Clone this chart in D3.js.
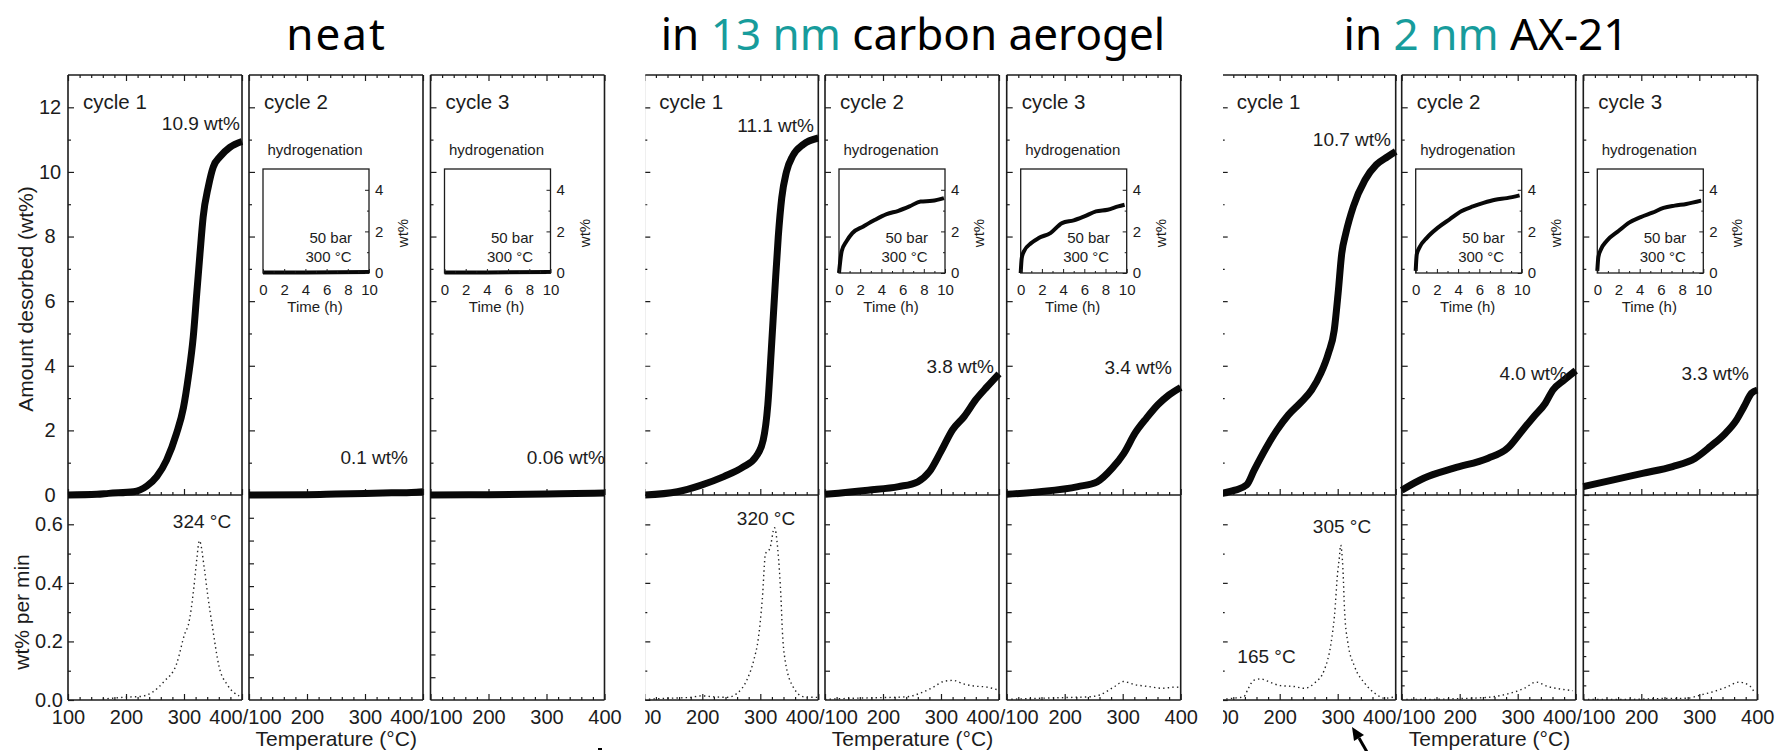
<!DOCTYPE html>
<html><head><meta charset="utf-8">
<script src="https://cdn.jsdelivr.net/npm/d3@7"></script>
<style>
html,body{margin:0;padding:0;background:#fff;}
svg{display:block;}
text{font-family:"Liberation Sans",Arial,sans-serif;fill:#1c1c1c;}
</style></head><body>
<svg id="chart" width="1781" height="751"></svg>
<script>
// ---------------- DATA ----------------
const titles = [["neat"], ["in ", "13 nm", " carbon aerogel"], ["in ", "2 nm", " AX-21"]];
const highlighted = ["13 nm", "2 nm"];
const cycles = ["cycle 1", "cycle 2", "cycle 3"];
const finalLabels = ["10.9 wt%", "0.1 wt%", "0.06 wt%", "11.1 wt%", "3.8 wt%", "3.4 wt%", "10.7 wt%", "4.0 wt%", "3.3 wt%"];
const peakLabels = ["324 °C", "320 °C", "305 °C", "165 °C"];
const xMajorTicks = [100, 200, 300, 400];
const xMinorTicks = [120, 140, 160, 180, 220, 240, 260, 280, 320, 340, 360, 380];
const xTickLabelsFirst = ["100", "200", "300", "400/100"];
const xTickLabelsMiddle = ["", "200", "300", "400/100"];
const xTickLabelsLast = ["", "200", "300", "400"];
const yTopMajor = [0, 2, 4, 6, 8, 10, 12];
const yTopMinor = [1, 3, 5, 7, 9, 11];
const yBotMajor = [0.0, 0.2, 0.4, 0.6];
const yBotMinor = [0.1, 0.3, 0.5];
const yBotDense = [0.1, 0.2, 0.3, 0.4, 0.5, 0.6];
const yBotHalf = [0.05, 0.15, 0.25, 0.35, 0.45, 0.55, 0.65];
const yNeatSideTicks = [0.1, 0.2, 0.3, 0.4, 0.5, 0.6, 0.7, 0.8];
const insetXTicks = [0, 2, 4, 6, 8, 10];
const insetXMinor = [1, 3, 5, 7, 9];
const insetYTicks = [0, 2, 4];
const insetYMinor = [1, 3];

// Amount desorbed (wt%) vs temperature (°C)
const neatC1 = [[100,0],[150,0.02],[170,0.05],[213,0.1],[236,0.28],[253,0.57],[270,1.08],[287,1.9],[299,2.7],[307.5,3.66],[316,4.9],[322,6.24],[327.6,7.48],[333,8.6],[342,9.55],[350.5,10.16],[362,10.47],[379,10.76],[400,10.94]];
const neatC2 = [[100,0],[200,0.01],[250,0.03],[300,0.05],[350,0.07],[380,0.08],[400,0.1]];
const neatC3 = [[100,0],[200,0.01],[300,0.03],[350,0.05],[400,0.06]];
const aeroC1 = [[100,0],[157,0.1],[197,0.3],[237,0.57],[270,0.86],[293,1.2],[305,1.7],[313,2.8],[319,4.5],[325,6.3],[331,8.0],[337,9.2],[345,10.0],[356,10.5],[374,10.85],[400,11.05]];
const aeroC2 = [[100,0.02],[174,0.15],[227,0.26],[260,0.41],[280,0.72],[300,1.35],[320,2.02],[340,2.43],[360,2.95],[380,3.36],[400,3.75]];
const aeroC3 = [[100,0.02],[157,0.1],[223,0.26],[256,0.41],[282,0.83],[302,1.29],[321.5,1.92],[341,2.38],[361,2.8],[380,3.1],[400,3.33]];
const ax21C1 = [[100,0.05],[123,0.15],[143,0.31],[156,0.77],[176,1.44],[195,2.0],[215,2.48],[235,2.84],[255,3.25],[271,3.77],[284,4.39],[294,5.1],[300.7,6.24],[307,7.48],[314,8.1],[327,8.93],[347,9.75],[366.5,10.22],[386,10.47],[400,10.63]];
const ax21C2 = [[100,0.15],[138,0.52],[190,0.83],[249,1.14],[282,1.44],[308,2.0],[328,2.43],[347.6,2.84],[360.7,3.25],[380,3.56],[400,3.85]];
const ax21C3 = [[100,0.26],[150,0.46],[202,0.67],[254,0.88],[293,1.14],[319,1.5],[345,1.91],[364,2.32],[377,2.73],[390,3.15],[400,3.25]];

// Desorption rate (wt% per min) vs temperature (°C)
const neatR1 = [[160,0.003],[202,0.01],[225,0.012],[245,0.026],[265.5,0.063],[287,0.122],[302,0.23],[307.5,0.256],[317,0.384],[322,0.48],[326.5,0.544],[335,0.45],[340.5,0.364],[349,0.25],[360.5,0.114],[375,0.051],[395,0.014]];
const aeroR1 = [[100,0.002],[144,0.006],[179,0.009],[199,0.014],[219,0.011],[242.5,0.009],[260,0.023],[277,0.069],[289,0.138],[296.5,0.209],[303.5,0.345],[309,0.5],[316.5,0.517],[324.5,0.588],[330,0.517],[336,0.333],[338,0.238],[342.5,0.14],[356.8,0.044],[375,0.011],[398,0.009]];
const aeroR2 = [[100,0.002],[149,0.006],[195,0.008],[241,0.011],[264,0.023],[287,0.044],[304,0.063],[321,0.067],[339,0.055],[356,0.048],[379,0.044],[399,0.034]];
const aeroR3 = [[100,0.002],[159,0.006],[215,0.009],[243,0.011],[260,0.017],[286,0.046],[301,0.063],[322,0.052],[345,0.046],[368,0.04],[390,0.044],[400,0.043]];
const ax21R1 = [[100,0.002],[120,0.006],[138,0.011],[146,0.04],[155,0.067],[167,0.072],[184,0.06],[201.5,0.049],[225,0.046],[242,0.04],[259.6,0.057],[277,0.103],[288.6,0.195],[294.4,0.287],[300,0.437],[303,0.489],[305,0.529],[309,0.448],[312,0.299],[317.6,0.195],[329,0.115],[346.6,0.057],[364,0.023],[381.5,0.006],[399,0.011]];
const ax21R2 = [[100,0.002],[145,0.002],[202,0.005],[248,0.009],[283,0.021],[311.5,0.04],[331.6,0.061],[352,0.046],[375,0.037],[395,0.032]];
const ax21R3 = [[100,0.002],[176,0.002],[233,0.005],[279,0.006],[302,0.017],[325,0.029],[347,0.044],[368.6,0.061],[387,0.048],[394,0.029]];

// Hydrogenation insets: wt% vs time (h)
const neatH2 = [[0,0.02],[4,0.03],[10,0.05]];
const neatH3 = [[0,0.02],[4,0.03],[10,0.05]];
const aeroH2 = [[0,0],[0.25,1.04],[0.7,1.52],[1.26,1.92],[2.3,2.24],[3.4,2.56],[4.5,2.83],[5.6,2.99],[6.65,3.2],[7.7,3.44],[8.8,3.47],[9.9,3.6]];
const aeroH3 = [[0,0],[0.1,0.72],[0.3,1.04],[1,1.44],[1.7,1.68],[2.8,1.92],[3.9,2.4],[5,2.53],[6,2.72],[7.1,2.96],[8.2,3.04],[9.2,3.2],[9.8,3.28]];
const ax21H2 = [[0,0.1],[0.1,0.9],[0.36,1.23],[1.07,1.7],[2.1,2.18],[3.2,2.58],[4.3,2.97],[5.4,3.2],[6.4,3.37],[7.5,3.52],[8.6,3.6],[9.8,3.73]];
const ax21H3 = [[0,0.1],[0.1,0.76],[0.36,1.15],[0.9,1.55],[2,2.02],[3,2.42],[4.1,2.69],[5.2,2.9],[6.25,3.13],[7.3,3.24],[8.4,3.32],[9.8,3.48]];

const amountSeries = [neatC1, neatC2, neatC3, aeroC1, aeroC2, aeroC3, ax21C1, ax21C2, ax21C3];
const rateSeries = [neatR1, null, null, aeroR1, aeroR2, aeroR3, ax21R1, ax21R2, ax21R3];
const insetSeries = [null, neatH2, neatH3, null, aeroH2, aeroH3, null, ax21H2, ax21H3];

// ---------------- LAYOUT ----------------
const svg = d3.select("#chart");
const INK = "#1c1c1c";
const W = 174, TOP = 75, MID = 495, BOT = 700;
const panelLeft = [68, 249, 430.5, 644.3, 825, 1006.7, 1221.7, 1401.7, 1583.3];
const finalPos = [[240,130],[408,464],[605,464],[814,132],[994,373],[1172,374],[1391,146],[1567,380],[1749,380]];
const peakPos = [[202,528],[766,525],[1342,533],[1266.5,662.5]];
const groupClip = [null, 645.3, 1222.9];

const defs = svg.append("defs");
groupClip.forEach((cx, gi) => {
  if (cx === null) return;
  defs.append("clipPath").attr("id", "clip" + gi).append("rect")
    .attr("x", cx).attr("y", 0).attr("width", 1781 - cx).attr("height", 751);
});

function tickAxis(g, axisFn, scale, values, size, transform, width) {
  const ax = axisFn(scale).tickValues(values).tickSize(size).tickFormat("");
  const s = g.append("g").attr("transform", transform).call(ax);
  s.select(".domain").remove();
  s.selectAll("line").attr("stroke", INK).attr("stroke-width", width || 1.2);
  return s;
}
function hline(g, x1, x2, y, w) {
  g.append("line").attr("x1", x1).attr("x2", x2).attr("y1", y).attr("y2", y)
    .attr("stroke", INK).attr("stroke-width", w || 1.6);
}
function vline(g, x, y1, y2, w) {
  g.append("line").attr("x1", x).attr("x2", x).attr("y1", y1).attr("y2", y2)
    .attr("stroke", INK).attr("stroke-width", w || 1.6);
}

// Titles
const titleCenters = [336.5, 913, 1486];
titles.forEach((parts, gi) => {
  const t = svg.append("text").attr("x", titleCenters[gi]).attr("y", 50)
    .attr("text-anchor", "middle").style("font-family", "'Comic Sans MS','Noto Sans',sans-serif")
    .style("font-size", "44px").style("letter-spacing", gi === 0 ? "2px" : "0px");
  parts.forEach(p => t.append("tspan").text(p).style("fill", highlighted.includes(p) ? "#179c9c" : "#000"));
});

for (let gi = 0; gi < 3; gi++) {
  const root = svg.append("g");
  if (groupClip[gi] !== null) root.attr("clip-path", `url(#clip${gi})`);
  for (let ci = 0; ci < 3; ci++) {
    const idx = gi * 3 + ci;
    const L = panelLeft[idx], R = L + W;
    const x = d3.scaleLinear().domain([100, 400]).range([L, R]);
    const yT = d3.scaleLinear().domain([0, 13]).range([MID, TOP]);
    const yB = d3.scaleLinear().domain([0, 0.7]).range([BOT, MID]);
    const g = root.append("g");

    // borders
    hline(g, L, R, TOP); hline(g, L, R, MID); hline(g, L, R, BOT);
    vline(g, L, TOP, BOT); vline(g, R, TOP, BOT);

    // x ticks: top border, middle axis, bottom axis
    tickAxis(g, d3.axisTop, x, xMajorTicks, -6, `translate(0,${TOP})`);
    tickAxis(g, d3.axisTop, x, xMinorTicks, -3, `translate(0,${TOP})`);
    tickAxis(g, d3.axisBottom, x, xMajorTicks, -6, `translate(0,${MID})`);
    tickAxis(g, d3.axisBottom, x, xMinorTicks, -3, `translate(0,${MID})`);
    tickAxis(g, d3.axisBottom, x, xMinorTicks, -3, `translate(0,${BOT})`);
    const labels = ci === 0 ? xTickLabelsFirst : (ci === 1 ? xTickLabelsMiddle : xTickLabelsLast);
    const bx = d3.axisBottom(x).tickValues(xMajorTicks).tickSize(-6).tickPadding(9.5)
      .tickFormat((d, i) => labels[i]);
    const bs = g.append("g").attr("transform", `translate(0,${BOT})`).call(bx);
    bs.select(".domain").remove();
    bs.selectAll("line").attr("stroke", INK).attr("stroke-width", 1.2);
    bs.selectAll("text").style("font-size", "20px").style("fill", INK)
      .style("font-family", "'Liberation Sans',Arial,sans-serif")
      .attr("dx", d => (d === 400 && ci < 2) ? 3 : 0);

    // y ticks top panel
    tickAxis(g, d3.axisLeft, yT, yTopMajor, -6, `translate(${L},0)`);
    tickAxis(g, d3.axisLeft, yT, yTopMinor, -3, `translate(${L},0)`);
    // y ticks bottom panel
    if (ci === 0) {
      tickAxis(g, d3.axisLeft, yB, yBotMajor, -6, `translate(${L},0)`);
      tickAxis(g, d3.axisLeft, yB, yBotMinor, -3, `translate(${L},0)`);
    } else if (gi === 0) {
      const yN = d3.scaleLinear().domain([0, 0.9]).range([BOT, MID]);
      tickAxis(g, d3.axisLeft, yN, yNeatSideTicks, -5, `translate(${L},0)`);
    } else if (gi === 1) {
      tickAxis(g, d3.axisLeft, yB, yBotDense, -5, `translate(${L},0)`);
    } else {
      tickAxis(g, d3.axisLeft, yB, yBotDense, -6, `translate(${L},0)`);
      tickAxis(g, d3.axisLeft, yB, yBotHalf, -3, `translate(${L},0)`);
    }

    // labels on first panel of first group
    if (idx === 0) {
      const la = d3.axisLeft(yT).tickValues(yTopMajor).tickSize(0).tickPadding(0).tickFormat(d3.format("d"));
      const s1 = g.append("g").attr("transform", `translate(${L},0)`).call(la);
      s1.select(".domain").remove();
      s1.selectAll("text").attr("text-anchor", "middle").attr("x", -18)
        .style("font-size", "20px").style("fill", INK).style("font-family", "'Liberation Sans',Arial,sans-serif");
      const lb = d3.axisLeft(yB).tickValues(yBotMajor).tickSize(0).tickPadding(0).tickFormat(d3.format(".1f"));
      const s2 = g.append("g").attr("transform", `translate(${L},0)`).call(lb);
      s2.select(".domain").remove();
      s2.selectAll("text").attr("text-anchor", "middle").attr("x", -19)
        .style("font-size", "20px").style("fill", INK).style("font-family", "'Liberation Sans',Arial,sans-serif");
    }

    // amount desorbed curve
    const line = d3.line().x(d => x(d[0])).y(d => yT(d[1])).curve(d3.curveMonotoneX);
    g.append("path").datum(amountSeries[idx]).attr("d", line)
      .attr("fill", "none").attr("stroke", "#080808").attr("stroke-width", 7)
      .attr("stroke-linejoin", "round");

    // rate curve (dotted)
    if (rateSeries[idx]) {
      const rl = d3.line().x(d => x(d[0])).y(d => yB(d[1])).curve(d3.curveMonotoneX);
      g.append("path").datum(rateSeries[idx]).attr("d", rl)
        .attr("fill", "none").attr("stroke", "#222").attr("stroke-width", 1.4)
        .attr("stroke-dasharray", "1.4,3.2");
    }

    // cycle label
    g.append("text").attr("x", L + 15).attr("y", 109).text(cycles[ci]).style("font-size", "20.5px");
    // final amount label
    g.append("text").attr("x", finalPos[idx][0]).attr("y", finalPos[idx][1]).attr("text-anchor", "end")
      .text(finalLabels[idx]).style("font-size", "19px");

    // inset
    if (insetSeries[idx]) {
      const ix = L + 14, iy = 169, iw = 106, ih = 104;
      const xs = d3.scaleLinear().domain([0, 10]).range([ix, ix + iw]);
      const ys = d3.scaleLinear().domain([0, 5]).range([iy + ih, iy]);
      g.append("rect").attr("x", ix).attr("y", iy).attr("width", iw).attr("height", ih)
        .attr("fill", "#fff").attr("stroke", INK).attr("stroke-width", 1.3);
      g.append("path").datum(insetSeries[idx]).attr("d", d3.line().x(d => xs(d[0])).y(d => ys(d[1])).curve(d3.curveMonotoneX))
        .attr("fill", "none").attr("stroke", "#080808").attr("stroke-width", 4).attr("stroke-linejoin", "round");
      // right axis
      const ra = d3.axisRight(ys).tickValues(insetYTicks).tickSize(-4).tickPadding(6).tickFormat(d3.format("d"));
      const rs = g.append("g").attr("transform", `translate(${ix + iw},0)`).call(ra);
      rs.select(".domain").remove();
      rs.selectAll("line").attr("stroke", INK);
      rs.selectAll("text").style("font-size", "15px").style("fill", INK).style("font-family", "'Liberation Sans',Arial,sans-serif");
      tickAxis(g, d3.axisRight, ys, insetYMinor, -2, `translate(${ix + iw},0)`, 1);
      // bottom axis
      const ba = d3.axisBottom(xs).tickValues(insetXTicks).tickSize(-4).tickPadding(11).tickFormat(d3.format("d"));
      const bsI = g.append("g").attr("transform", `translate(0,${iy + ih})`).call(ba);
      bsI.select(".domain").remove();
      bsI.selectAll("line").attr("stroke", INK);
      bsI.selectAll("text").style("font-size", "15px").style("fill", INK).style("font-family", "'Liberation Sans',Arial,sans-serif");
      tickAxis(g, d3.axisBottom, xs, insetXMinor, -2, `translate(0,${iy + ih})`, 1);
      g.append("text").attr("x", ix + 52).attr("y", 155).attr("text-anchor", "middle").text("hydrogenation").style("font-size", "15px");
      g.append("text").attr("x", ix + 89).attr("y", 243).attr("text-anchor", "end").text("50 bar").style("font-size", "15px");
      g.append("text").attr("x", ix + 88.5).attr("y", 262).attr("text-anchor", "end").text("300 °C").style("font-size", "15px");
      g.append("text").attr("x", ix + 52).attr("y", 312).attr("text-anchor", "middle").text("Time (h)").style("font-size", "15px");
      g.append("text").attr("transform", `translate(${ix + 145},233) rotate(-90)`).attr("text-anchor", "middle")
        .text("wt%").style("font-size", "15px");
    }
  }
  // group x axis title
  const cx = (panelLeft[gi * 3] + panelLeft[gi * 3 + 2] + W) / 2;
  root.append("text").attr("x", cx).attr("y", 746).attr("text-anchor", "middle")
    .text("Temperature (°C)").style("font-size", "21px");
}

// peak labels
peakLabels.forEach((t, i) => {
  svg.append("text").attr("x", peakPos[i][0]).attr("y", peakPos[i][1]).attr("text-anchor", "middle")
    .text(t).style("font-size", "19px");
});

// y-axis titles
svg.append("text").attr("transform", "translate(33,299) rotate(-90)").attr("text-anchor", "middle")
  .text("Amount desorbed (wt%)").style("font-size", "21px");
svg.append("text").attr("transform", "translate(29,612) rotate(-90)").attr("text-anchor", "middle")
  .text("wt% per min").style("font-size", "21px");

// arrow near AX-21 peak and small mark
svg.append("line").attr("x1", 1367).attr("y1", 752).attr("x2", 1359).attr("y2", 738)
  .attr("stroke", "#000").attr("stroke-width", 3);
svg.append("path").attr("d", "M1352,727 L1364,735 L1354,741 Z").attr("fill", "#000");
svg.append("rect").attr("x", 598).attr("y", 748).attr("width", 4).attr("height", 2).attr("fill", "#000");
</script></body></html>
